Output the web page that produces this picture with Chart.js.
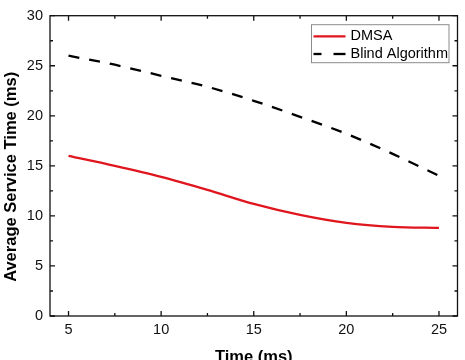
<!DOCTYPE html>
<html>
<head>
<meta charset="utf-8">
<script src="https://cdn.jsdelivr.net/npm/chart.js@4.4.0/dist/chart.umd.min.js"></script>
<style>
  html, body { margin: 0; padding: 0; overflow: hidden; background: #fff; }
</style>
</head>
<body>
<canvas id="serviceChart" width="465" height="367"></canvas>
<script>
// Data
var timeValues = [5, 7.5, 10, 12.5, 15, 17.5, 20, 22.5, 25];
var dmsaValues = [16.0, 15.0, 13.9, 12.6, 11.2, 10.1, 9.3, 8.9, 8.8];
var blindValues = [26.0, 25.1, 24.0, 22.9, 21.5, 19.9, 18.2, 16.2, 14.0];

var xTicks = [5, 10, 15, 20, 25];
var xMinorTicks = [7.5, 12.5, 17.5, 22.5];
var yTicks = [0, 5, 10, 15, 20, 25, 30];
var yMinorTicks = [2.5, 7.5, 12.5, 17.5, 22.5, 27.5];

var fontFamily = '"Liberation Sans", Arial, Helvetica, sans-serif';

function toPoints(xs, ys) {
  return xs.map(function (x, i) { return {x: x, y: ys[i]}; });
}

// box, inward ticks, y title and legend, Origin style
var framePlugin = {
  id: 'frame',
  afterDraw: function (chart) {
    var ctx = chart.ctx;
    var a = chart.chartArea;
    var xs = chart.scales.x, ys = chart.scales.y;
    ctx.save();
    ctx.strokeStyle = '#111';
    ctx.lineWidth = 1.3;
    ctx.strokeRect(a.left, a.top, a.right - a.left, a.bottom - a.top);

    ctx.beginPath();
    function xTick(v, len) {
      var px = xs.getPixelForValue(v);
      ctx.moveTo(px, a.bottom); ctx.lineTo(px, a.bottom - len);
      ctx.moveTo(px, a.top); ctx.lineTo(px, a.top + len);
    }
    function yTick(v, len) {
      var py = ys.getPixelForValue(v);
      ctx.moveTo(a.left, py); ctx.lineTo(a.left + len, py);
      ctx.moveTo(a.right, py); ctx.lineTo(a.right - len, py);
    }
    xTicks.forEach(function (v) { xTick(v, 5); });
    xMinorTicks.forEach(function (v) { xTick(v, 3); });
    yTicks.forEach(function (v) { yTick(v, 5); });
    yMinorTicks.forEach(function (v) { yTick(v, 3); });
    ctx.stroke();

    // y axis title
    ctx.save();
    ctx.translate(11, (a.top + a.bottom) / 2 + 11);
    ctx.rotate(-Math.PI / 2);
    ctx.fillStyle = '#000';
    ctx.font = 'bold 16.5px ' + fontFamily;
    ctx.textAlign = 'center';
    ctx.textBaseline = 'middle';
    ctx.fillText('Average Service Time (ms)', 0, 0);
    ctx.restore();

    // legend
    var bx = a.right - 146, by = a.top + 9, bw = 137.5, bh = 38;
    ctx.lineWidth = 1;
    ctx.strokeStyle = '#8a8a8a';
    ctx.strokeRect(bx, by, bw, bh);
    ctx.font = '14.5px ' + fontFamily;
    ctx.textAlign = 'left';
    ctx.textBaseline = 'middle';
    chart.data.datasets.forEach(function (ds, i) {
      var ry = by + 11.7 + i * 17.6;
      ctx.beginPath();
      ctx.strokeStyle = ds.borderColor;
      ctx.lineWidth = ds.borderWidth;
      if (ds.borderDash) { ctx.setLineDash([12, 12]); ctx.lineDashOffset = 4; }
      else { ctx.setLineDash([]); }
      ctx.moveTo(bx + 2, ry);
      ctx.lineTo(bx + 34, ry);
      ctx.stroke();
      ctx.setLineDash([]);
      ctx.fillStyle = '#000';
      ctx.fillText(ds.label, bx + 39, ry);
    });
    ctx.restore();
  }
};

var ctx = document.getElementById('serviceChart').getContext('2d');
var serviceChart = new Chart(ctx, {
  type: 'line',
  data: {
    datasets: [{
      label: 'DMSA',
      data: toPoints(timeValues, dmsaValues),
      borderColor: '#e0161e',
      borderWidth: 2.3,
      pointRadius: 0,
      fill: false,
      cubicInterpolationMode: 'monotone'
    }, {
      label: 'Blind Algorithm',
      data: toPoints(timeValues, blindValues),
      borderColor: '#000000',
      borderWidth: 2.3,
      borderDash: [11, 10],
      pointRadius: 0,
      fill: false,
      cubicInterpolationMode: 'monotone'
    }]
  },
  options: {
    responsive: false,
    animation: false,
    layout: { padding: { top: 11, right: 7.5, bottom: 0, left: 2 } },
    plugins: {
      legend: { display: false },
      tooltip: { enabled: false }
    },
    scales: {
      x: {
        type: 'linear',
        min: 4,
        max: 26,
        grid: { display: false, drawTicks: false },
        border: { display: false },
        afterBuildTicks: function (s) { s.ticks = xTicks.map(function (v) { return {value: v}; }); },
        afterFit: function (s) { s.height = 51; },
        ticks: { padding: 5, color: '#111', maxRotation: 0, font: { family: fontFamily, size: 14.5 } },
        title: {
          display: true,
          text: 'Time (ms)',
          color: '#000',
          padding: 0,
          font: { family: fontFamily, size: 16.5, weight: 'bold' }
        }
      },
      y: {
        type: 'linear',
        min: 0,
        max: 30,
        grid: { display: false, drawTicks: false },
        border: { display: false },
        afterBuildTicks: function (s) { s.ticks = yTicks.map(function (v) { return {value: v}; }); },
        afterFit: function (s) { s.width = 48; },
        ticks: { padding: 7, color: '#111', font: { family: fontFamily, size: 14.5 } },
        title: { display: false }
      }
    }
  },
  plugins: [framePlugin]
});
</script>
</body>
</html>
